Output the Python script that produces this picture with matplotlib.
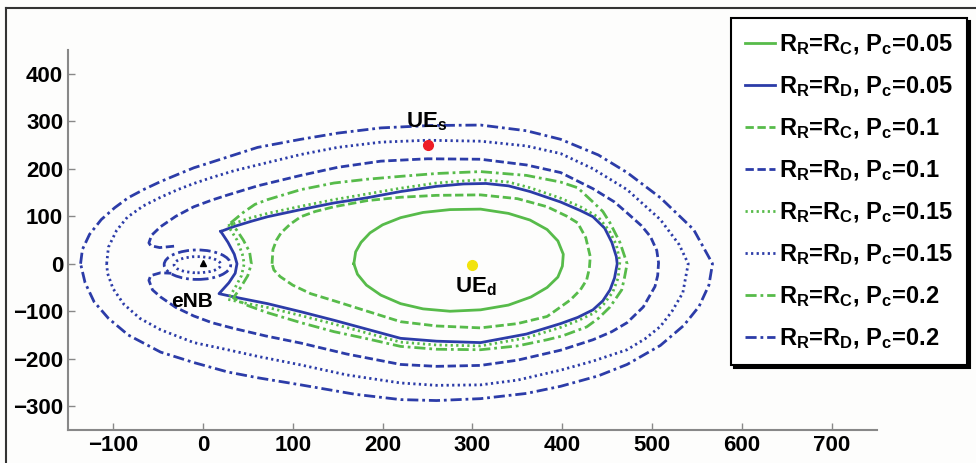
import numpy as np
import matplotlib.pyplot as plt
from matplotlib.patches import Ellipse
from matplotlib.lines import Line2D

plt.rcParams['font.family'] = 'Liberation Sans'
plt.rcParams['font.weight'] = 'bold'
plt.rcParams['mathtext.fontset'] = 'custom'
plt.rcParams['mathtext.rm'] = 'Liberation Sans:bold'
plt.rcParams['mathtext.it'] = 'Liberation Sans:bold'
plt.rcParams['mathtext.bf'] = 'Liberation Sans:bold'

green = '#57bb4a'
blue = '#2c3ca8'

# contour points (x, y in metres)
# R_R = R_C, Pc = 0.05  (green solid)
gc05_x = [168, 170, 176, 186, 200, 220, 245, 275, 309, 340, 364, 383, 395, 401, 400, 395, 383, 365, 340,
          309, 275, 245, 220, 198, 182, 172, 168]
gc05_y = [0, 25, 45, 65, 82, 97, 108, 114, 115, 106, 92, 72, 48, 20, -5, -28, -50, -70, -87,
          -97, -100, -95, -84, -66, -45, -22, 0]

# R_R = R_D, Pc = 0.05  (blue solid, notch next to eNB)
bd05_x = [20, 34, 55, 72, 109, 146, 183, 220, 260, 290, 315, 340, 364, 398, 420, 434, 447, 455, 460, 461,
          458, 453, 445, 434, 417, 398, 360, 309, 260, 220, 183, 146, 109, 72, 40, 18,
          29, 36, 38, 35, 28, 20]
bd05_y = [68, 78, 90, 99, 114, 128, 139, 152, 163, 168, 169, 164, 152, 130, 112, 99, 75, 45, 15, 0,
          -30, -55, -78, -97, -113, -126, -148, -166, -163, -157, -138, -119, -101, -84, -72, -63,
          -40, -20, 0, 20, 45, 68]

# R_R = R_C, Pc = 0.1  (green dashed)
gc10_x = [77, 78, 82, 87, 97, 109, 125, 146, 183, 220, 260, 309, 350, 383, 405, 417, 426, 431, 430,
          427, 420, 409, 395, 383, 350, 309, 260, 220, 183, 146, 120, 100, 86, 79, 77]
gc10_y = [0, 30, 50, 65, 83, 99, 110, 120, 133, 140, 144, 145, 137, 120, 100, 86, 55, 15, -10,
          -34, -55, -76, -95, -111, -126, -135, -131, -122, -100, -78, -63, -45, -27, -13, 0]

# R_R = R_D, Pc = 0.1  (blue dashed, hooks round eNB)
bd10_x = [-32, -48, -58, -60, -57, -47, -30, -10, 10, 28, 61, 109, 150, 198, 250, 309, 360, 398, 434,
          458, 472, 488, 498, 505, 507, 506, 503, 490, 472, 455, 434, 398, 350, 309, 260, 220, 160,
          109, 70, 34, 10, -10, -30, -47, -56, -60, -58, -47, -35]
bd10_y = [37, 34, 38, 44, 60, 78, 100, 120, 134, 145, 164, 186, 203, 216, 221, 220, 208, 192, 158,
          130, 107, 80, 57, 28, 2, -25, -48, -91, -124, -143, -160, -182, -203, -214, -216, -212, -190,
          -167, -152, -136, -124, -110, -92, -70, -55, -35, -25, -19, -20]

# R_R = R_C, Pc = 0.15  (green dotted)
gc15_x = [28, 50, 72, 109, 146, 183, 220, 260, 309, 340, 364, 398, 420, 440, 452, 460, 464, 462, 456,
          446, 436, 417, 398, 360, 309, 260, 220, 183, 146, 109, 72, 45, 28,
          36, 43, 46, 44, 38, 28]
gc15_y = [80, 95, 106, 121, 135, 147, 159, 170, 177, 172, 160, 138, 120, 98, 70, 40, 5, -30, -60,
          -85, -103, -120, -134, -156, -173, -171, -165, -146, -127, -109, -92, -82, -75,
          -50, -25, 0, 20, 50, 80]

# R_R = R_D, Pc = 0.15  (blue dotted)
bd15_x = [-107, -105, -96, -84, -66, -47, -28, -10, 9, 35, 61, 109, 150, 198, 250, 309, 360, 398, 434,
          472, 509, 530, 540, 537, 534, 522, 509, 492, 472, 434, 398, 350, 309, 260, 220, 160,
          109, 61, 25, -10, -47, -70, -88, -100, -106, -107]
bd15_y = [0, 35, 70, 98, 122, 140, 156, 169, 181, 196, 208, 230, 245, 256, 260, 258, 248, 232, 200,
          156, 93, 40, 0, -30, -61, -100, -132, -158, -181, -205, -224, -245, -255, -256, -251, -234,
          -213, -195, -180, -166, -139, -115, -85, -52, -20, 0]

# R_R = R_C, Pc = 0.2  (green dash-dot)
gc20_x = [31, 45, 58, 72, 109, 146, 183, 220, 260, 309, 360, 398, 417, 434, 445, 453, 464, 472, 469,
          466, 453, 440, 427, 400, 383, 350, 309, 260, 220, 183, 146, 109, 72, 50, 34,
          42, 50, 54, 52, 45, 38, 31]
gc20_y = [86, 108, 125, 135, 156, 170, 178, 184, 190, 194, 186, 172, 160, 130, 110, 86, 45, 0, -30,
          -55, -91, -115, -133, -152, -160, -173, -181, -180, -174, -158, -143, -124, -103, -88, -72,
          -50, -25, 0, 25, 50, 70, 86]

# R_R = R_D, Pc = 0.2  (blue dash-dot, outermost)
bd20_x = [-136, -134, -126, -113, -98, -83, -65, -47, -28, -10, 10, 28, 61, 109, 150, 198, 253, 309,
          360, 398, 440, 472, 509, 546, 567, 563, 552, 535, 509, 472, 440, 398, 360, 309,
          260, 220, 170, 109, 61, 28, -10, -47, -83, -105, -121, -131, -136]
bd20_y = [0, 30, 62, 93, 118, 139, 157, 173, 188, 202, 214, 225, 245, 262, 275, 286, 291, 292,
          280, 262, 229, 192, 139, 72, 0, -45, -90, -130, -172, -212, -236, -258, -273, -284,
          -288, -286, -275, -255, -240, -228, -208, -186, -150, -115, -80, -40, 0]

# small rings round the eNB: centre x, centre y, width, height
ring_cx = [-6, -6]
ring_cy = [-2, -2]
ring_w = [74, 52]
ring_h = [62, 34]

# node positions
enb = (0, 2)
ue_s = (251, 250)
ue_d = (300, -2)

labels = [r'R$_R$=R$_C$, P$_c$=0.05', r'R$_R$=R$_D$, P$_c$=0.05',
          r'R$_R$=R$_C$, P$_c$=0.1', r'R$_R$=R$_D$, P$_c$=0.1',
          r'R$_R$=R$_C$, P$_c$=0.15', r'R$_R$=R$_D$, P$_c$=0.15',
          r'R$_R$=R$_C$, P$_c$=0.2', r'R$_R$=R$_D$, P$_c$=0.2']

solid = '-'
dash = (0, (3, 1.3))
dot = (0, (0.8, 1.2))
dashdot = (0, (4, 1.4, 1, 1.4))

fig = plt.figure(figsize=(9.76, 4.63), dpi=100)
fig.patch.set_facecolor('#fdfdfc')
ax = fig.add_axes([68/976, 1-430/463, (877-68)/976, 380/463])
ax.set_facecolor('none')

lw = 2.0
ax.plot(gc05_x, gc05_y, color=green, ls=solid, lw=lw, label=labels[0])
ax.plot(bd05_x, bd05_y, color=blue, ls=solid, lw=lw, label=labels[1])
ax.plot(gc10_x, gc10_y, color=green, ls=dash, lw=lw, label=labels[2])
ax.plot(bd10_x, bd10_y, color=blue, ls=dash, lw=lw, label=labels[3])
ax.plot(gc15_x, gc15_y, color=green, ls=dot, lw=lw, label=labels[4])
ax.plot(bd15_x, bd15_y, color=blue, ls=dot, lw=lw, label=labels[5])
ax.plot(gc20_x, gc20_y, color=green, ls=dashdot, lw=lw, label=labels[6])
ax.plot(bd20_x, bd20_y, color=blue, ls=dashdot, lw=lw, label=labels[7])

for cx, cy, w, h, st in zip(ring_cx, ring_cy, ring_w, ring_h, [dashdot, dot]):
    ax.add_patch(Ellipse((cx, cy), w, h, fill=False, ec=blue, lw=lw, ls=st))

ax.plot(*enb, marker='^', color='k', ms=5)
ax.plot(*ue_s, marker='o', color='#ee1c24', ms=7)
ax.plot(*ue_d, marker='o', color='#f2e30c', ms=7)

ax.text(226, 288, r'UE$_s$', fontsize=16, va='baseline')
ax.text(281, -61, r'UE$_d$', fontsize=16, va='baseline')
ax.text(-35, -91, 'eNB', fontsize=15, va='baseline')

ax.set_xlim(-150, 750)
ax.set_ylim(-350, 450)
ax.set_xticks(np.arange(-100, 701, 100))
ax.set_yticks(np.arange(-300, 401, 100))
ax.tick_params(direction='in', length=5, color='#888888', labelsize=16, width=1)
for s in ['top', 'right']:
    ax.spines[s].set_visible(False)
for s in ['left', 'bottom']:
    ax.spines[s].set_color('#888888')
    ax.spines[s].set_linewidth(1.5)

leg = ax.legend(loc='upper left', bbox_to_anchor=(731/976, 1-18/463), bbox_transform=fig.transFigure,
                borderaxespad=0, fontsize=17, handlelength=1.25, handletextpad=0.2,
                labelspacing=0.73, borderpad=0.6, fancybox=False, framealpha=1,
                shadow={'color': 'k', 'alpha': 1})
leg.get_frame().set_edgecolor('k')
leg.get_frame().set_linewidth(1.5)

# outer frame of the picture (left and top edges)
fig.add_artist(Line2D([6/976, 6/976], [0, 1-8/463], transform=fig.transFigure, color='#333333', lw=1.5))
fig.add_artist(Line2D([6/976, 1], [1-8/463, 1-8/463], transform=fig.transFigure, color='#333333', lw=1.5))

fig.savefig('out.png', dpi=100, facecolor=fig.get_facecolor())
